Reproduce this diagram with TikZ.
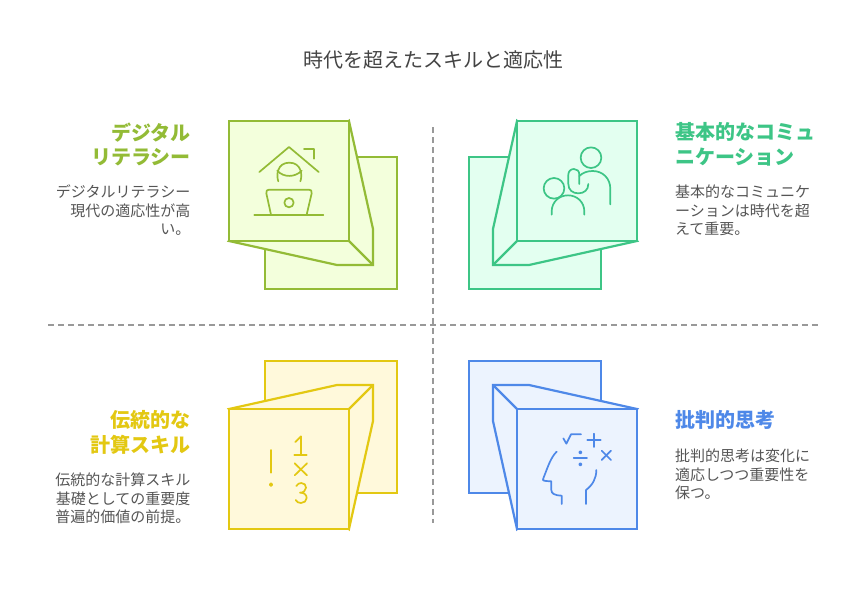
\documentclass[tikz,border=0pt]{standalone}
\usepackage{fontspec}
\setmainfont{Noto Sans CJK JP}
\definecolor{limeS}{HTML}{93BB36}\definecolor{limeF}{HTML}{F3FFDC}
\definecolor{mintS}{HTML}{3DC586}\definecolor{mintF}{HTML}{E3FFF0}
\definecolor{yellS}{HTML}{E3C812}\definecolor{yellF}{HTML}{FFF9DB}
\definecolor{blueS}{HTML}{4E88E8}\definecolor{blueF}{HTML}{ECF3FE}
\definecolor{bodyT}{HTML}{555555}\definecolor{titleT}{HTML}{444444}
\definecolor{sepC}{HTML}{999999}
\tikzset{
 panel/.style={line width=2.2pt,line join=miter},
 icon/.style={line width=1.7pt,line cap=round,line join=round},
 sep/.style={draw=sepC,line width=2pt,dash pattern=on 6pt off 4.05pt},
 headL/.style={anchor=north east,align=right,inner sep=0pt,font=\fontsize{20}{24.4}\selectfont\bfseries},
 headR/.style={anchor=north west,align=left,inner sep=0pt,font=\fontsize{20}{24.4}\selectfont\bfseries},
 bodyL/.style={anchor=north east,align=right,inner sep=0pt,text=bodyT,font=\fontsize{15}{18.4}\selectfont},
 bodyR/.style={anchor=north west,align=left,inner sep=0pt,text=bodyT,font=\fontsize{15}{18.4}\selectfont},
 zoomed/.style={x=1pt/3,y=-1pt/3},
}
\begin{document}
\begin{tikzpicture}[x=1pt,y=-1pt]
\useasboundingbox[fill=white] (0,0) rectangle (866,602);
\node[text=titleT,inner sep=0pt,font=\fontsize{20}{24}\selectfont] (title) at (433,60) {時代を超えたスキルと適応性};
% separators
\coordinate (vt) at (433,127);\coordinate (vb) at (433,523);
\coordinate (hl) at (48,325);\coordinate (hr) at (818,325);
\draw[sep] (vt)--(vb);
\draw[sep] (hl)--(hr);
% panel 1
\begin{scope}[panel,draw=limeS,fill=limeF]
\filldraw (265,157) rectangle (397,289);
\filldraw (349,121)--(373,229)--(373,265)--(337,265)--(229,241)--cycle;
\draw (349,241)--(373,265);
\filldraw (229,121) rectangle (349,241);
\end{scope}
% panel 2
\begin{scope}[panel,draw=mintS,fill=mintF]
\filldraw (469,157) rectangle (601,289);
\filldraw (517,121)--(493,229)--(493,265)--(529,265)--(637,241)--cycle;
\draw (517,241)--(493,265);
\filldraw (517,121) rectangle (637,241);
\end{scope}
% panel 3
\begin{scope}[panel,draw=yellS,fill=yellF]
\filldraw (265,361) rectangle (397,493);
\filldraw (229,409)--(337,385)--(373,385)--(373,421)--(349,529)--cycle;
\filldraw (229,409) rectangle (349,529);
\draw (349,409)--(373,385);
\end{scope}
% panel 4
\begin{scope}[panel,draw=blueS,fill=blueF]
\filldraw (469,361) rectangle (601,493);
\filldraw (637,409)--(529,385)--(493,385)--(493,421)--(517,529)--cycle;
\filldraw (517,409) rectangle (637,529);
\draw (517,409)--(493,385);
\end{scope}
% icon 1
\begin{scope}[zoomed,shift={(220pt,-110pt)},icon,draw=limeS]
\draw (118,186)--(207,111)--(296,186);
\draw (252,117)--(283,117)--(283,146);
\draw (175,214).. controls (168,195) and (172,158) .. (208,158) .. controls (244,158) and (248,195) .. (241,214);
\draw (172,182).. controls (190,203) and (225,203) .. (245,182);
\draw (153,314)--(139,250).. controls (138,242) and (141,239) .. (147,239)--(267,239).. controls (273,239) and (276,242) .. (275,250)--(260,314);
\draw (207,278) circle[radius=14];
\draw (103,314)--(310,314);
\end{scope}
% icon 2
\begin{scope}[zoomed,shift={(460pt,-110pt)},icon,draw=mintS]
\draw (393,143) circle[radius=31];
\draw (451,283)--(451,237).. controls (451,205) and (428,183) .. (398,183).. controls (382,183) and (368,188) .. (358,198);
\draw (358,222)--(358,194).. controls (358,183) and (351,177) .. (342,177).. controls (332,177) and (325,184) .. (325,194)--(325,222).. controls (325,240) and (338,250) .. (355,250).. controls (372,250) and (385,240) .. (385,222);
\draw (282,235) circle[radius=31];
\draw (275,314)--(275,305).. controls (275,275) and (298,256) .. (324,256).. controls (350,256) and (373,275) .. (373,305)--(373,314);
\end{scope}
% icon 3
\begin{scope}[zoomed,shift={(220pt,-350pt)},icon,draw=yellS]
\draw (226,276)--(243,259)--(243,315);
\draw (223,315)--(260,315);
\draw (224,340)--(261,376);
\draw (261,340)--(224,376);
\draw (229,408).. controls (232,402) and (238,399) .. (244,399).. controls (253,399) and (258,405) .. (258,413).. controls (258,422) and (250,428) .. (240,428).. controls (252,428) and (260,434) .. (260,444).. controls (260,453) and (252,459) .. (243,459).. controls (236,459) and (230,456) .. (227,450);
\draw (153,300)--(153,368);
\draw[fill=yellS] (153,404) circle[radius=4];
\end{scope}
% icon 4
\begin{scope}[zoomed,shift={(460pt,-350pt)},icon,draw=blueS]
\draw (310,265)--(319,281)--(333,253)--(363,253);
\draw (382,271)--(422,271);
\draw (402,251)--(402,291);
\draw (425,302)--(453,330);
\draw (453,302)--(425,330);
\draw (341,325)--(381,325);
\draw[fill=blueS] (361,307) circle[radius=3.5];
\draw[fill=blueS] (361,343) circle[radius=3.5];
\draw (290,305).. controls (272,322) and (262,355) .. (250,385)--(249,390).. controls (252,394) and (265,393) .. (274,394)--(274,420).. controls (274,430) and (282,436) .. (305,437)--(305,462);
\draw (409,360).. controls (409,385) and (398,405) .. (378,420)--(378,462);
\end{scope}
% texts
\node[headL,text=limeS] (h1) at (191,122.5) {デジタル\\リテラシー};
\node[bodyL] (b1) at (190.5,185) {デジタルリテラシー\\現代の適応性が高\\い。};
\node[headR,text=mintS] (h2) at (675,122.5) {基本的なコミュ\\ニケーション};
\node[bodyR] (b2) at (675,185) {基本的なコミュニケ\\ーションは時代を超\\えて重要。};
\node[headL,text=yellS] (h3) at (191,410.5) {伝統的な\\計算スキル};
\node[bodyL] (b3) at (190.5,473) {伝統的な計算スキル\\基礎としての重要度\\普遍的価値の前提。};
\node[headR,text=blueS] (h4) at (675,410.5) {批判的思考};
\node[bodyR] (b4) at (675,449) {批判的思考は変化に\\適応しつつ重要性を\\保つ。};
\end{tikzpicture}
\end{document}
